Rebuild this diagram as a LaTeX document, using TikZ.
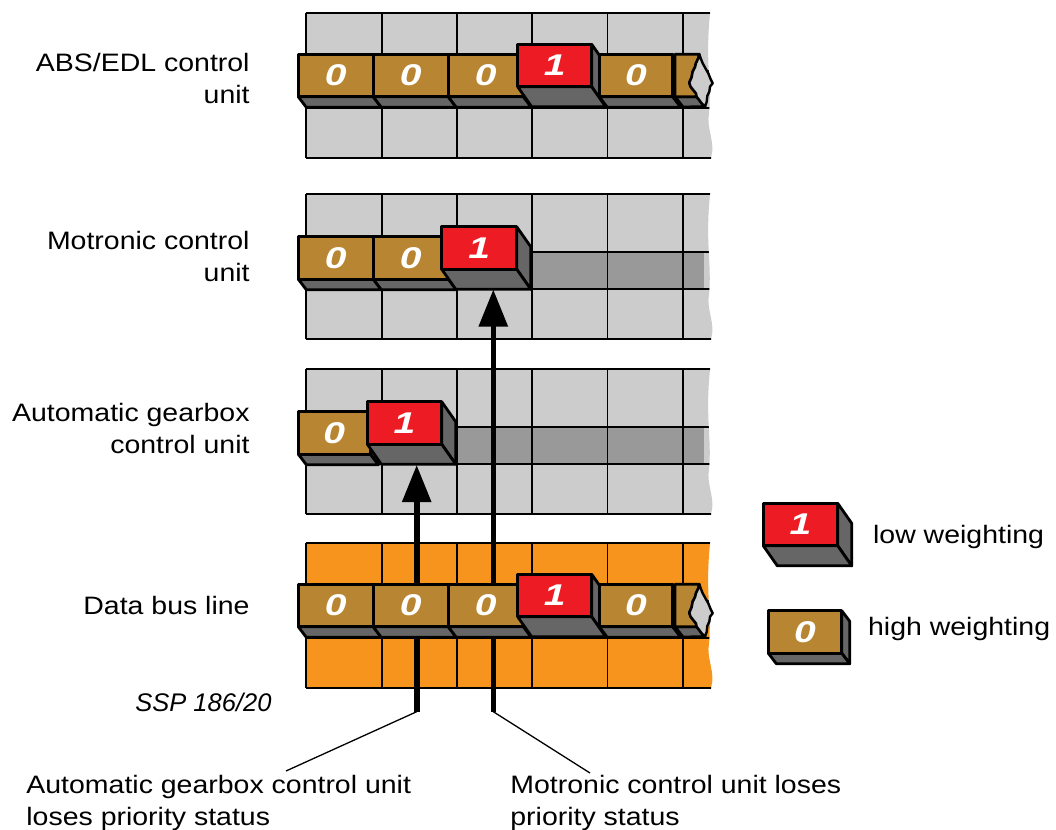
\documentclass[tikz,border=0pt]{standalone}
\usepackage{fontspec}
\setmainfont{Liberation Sans}[FakeStretch=1.13]
\newfontfamily\sspfont{Liberation Sans}
\newfontfamily\digitfont{Liberation Sans}[FakeStretch=1.3]
\usetikzlibrary{arrows.meta}
\definecolor{brownc}{RGB}{184,134,50}
\definecolor{redc}{RGB}{237,28,36}
\definecolor{shadec}{RGB}{102,102,102}
\definecolor{panelc}{RGB}{204,204,204}
\definecolor{bandc}{RGB}{153,153,153}
\definecolor{orangec}{RGB}{247,148,29}
\tikzset{
  blockline/.style={draw=black, line width=1.4pt, line join=round},
  gridline/.style={draw=black, line width=0.9pt},
  digit/.style={text=white, font=\digitfont\bfseries\itshape\fontsize{15}{15}\selectfont, inner sep=0pt},
  lbl/.style={font=\fontsize{12.6}{15.8}\selectfont, inner sep=0pt},
  ssp/.style={font=\sspfont\itshape\fontsize{12.75}{15}\selectfont, inner sep=0pt},
  busarrow/.style={draw=black, line width=2.8pt, -{Triangle[width=14pt,length=18.5pt]}},
  leader/.style={draw=black, line width=0.65pt},
  tornface/.style={fill=panelc, draw=black, line width=1.2pt, line join=round},
}
% panel outline with wavy right edge
\newcommand{\panelshape}[1]{(306,#1) -- (710,#1) .. controls (705,#1+50) and (712,#1+70) .. (709,#1+100) .. controls (706,#1+115) and (716,#1+130) .. (711,#1+144.5) -- (306,#1+144.5) -- cycle}
\newcommand{\panelclip}[1]{(300,#1-3) -- (710,#1-3) -- (710,#1) .. controls (705,#1+50) and (712,#1+70) .. (709,#1+100) .. controls (706,#1+115) and (716,#1+130) .. (711,#1+144.5) -- (711,#1+147.5) -- (300,#1+147.5) -- cycle}
\newcommand{\gridpanel}[3]{% top y, fill colour, band yes/no
  \fill[#2] \panelshape{#1};
  \begin{scope}
    \clip \panelclip{#1};
    \ifnum#3=1 \fill[bandc] (306,#1+58) rectangle (704,#1+95);\fi
    \foreach \xx in {306,382,457,532,607.5,683.3}
      \draw[gridline] (\xx,#1) -- (\xx,#1+144.5);
    \foreach \yy in {0,58,95,144.5}
      \draw[gridline] (306,#1+\yy) -- (720,#1+\yy);
  \end{scope}
}
\newcommand{\zeroblock}[4]{% name, x, y, width
  \filldraw[blockline, fill=shadec] (#2+#4,#3) -- ++(8,10.5) -- ++(0,42.5) -- ++(-8,-10.5) -- cycle;
  \filldraw[blockline, fill=shadec] (#2,#3+42.5) -- ++(8,10.5) -- ++(#4,0) -- ++(-8,-10.5) -- cycle;
  \filldraw[blockline, fill=brownc] (#2,#3) rectangle ++(#4,42.5);
  \node[digit] (#1) at (#2+#4/2,#3+21.25) {0};
}
\newcommand{\oneblock}[4]{% name, x, y, width
  \filldraw[blockline, fill=shadec] (#2+#4,#3) -- ++(14,20) -- ++(0,42.5) -- ++(-14,-20) -- cycle;
  \filldraw[blockline, fill=shadec] (#2,#3+42.5) -- ++(14,20) -- ++(#4,0) -- ++(-14,-20) -- cycle;
  \filldraw[blockline, fill=redc] (#2,#3) rectangle ++(#4,42.5);
  \node[digit] (#1) at (#2+#4/2,#3+21) {1};
}
\newcommand{\tornblock}[1]{% vertical offset
  \filldraw[blockline, fill=shadec] (675,#1+96.7) -- (683,#1+107) -- (705,#1+106.7) -- (701.7,#1+103.3) -- (699.3,#1+100) -- (696.7,#1+96.7) -- cycle;
  \filldraw[blockline, fill=brownc] (675,#1+54.3) -- (699.3,#1+54.3) -- (698.3,#1+58.3) -- (696,#1+63.3) -- (695,#1+67.3) -- (692.7,#1+71.7) -- (691.7,#1+77.3) -- (689.3,#1+82.7) -- (690.7,#1+86.7) -- (693.3,#1+90) -- (696,#1+93.3) -- (696.7,#1+96.7) -- (675,#1+96.7) -- cycle;
  \filldraw[tornface] (699.3,#1+54.3) -- (700.7,#1+58.3) -- (702.7,#1+63.3) -- (706,#1+69.3) -- (708.3,#1+73.3) -- (710.7,#1+79.3) -- (712.7,#1+83.3) -- (710,#1+86.7) -- (709.3,#1+91.7) -- (707.3,#1+96) -- (706.7,#1+101.7) -- (705,#1+106.7) -- (701.7,#1+103.3) -- (699.3,#1+100) -- (696.7,#1+96.7) -- (696,#1+93.3) -- (693.3,#1+90) -- (690.7,#1+86.7) -- (689.3,#1+82.7) -- (691.7,#1+77.3) -- (692.7,#1+71.7) -- (695,#1+67.3) -- (696,#1+63.3) -- (698.3,#1+58.3) -- cycle;
}
\begin{document}
\begin{tikzpicture}[x=0.5pt,y=-0.5pt]
\useasboundingbox (0,0) rectangle (1056,830);
\fill[white] (0,0) rectangle (1056,830);

% panels
\gridpanel{13.3}{panelc}{0}
\gridpanel{194.3}{panelc}{1}
\gridpanel{369.3}{panelc}{1}
\gridpanel{543.3}{orangec}{0}

% arrows from the data bus
\coordinate (a1bot) at (416.7,711.7);
\coordinate (a1tip) at (416.7,465);
\coordinate (a2bot) at (493.3,711.7);
\coordinate (a2tip) at (493.3,289.5);
\draw[busarrow] (a1bot) -- (a1tip);
\draw[busarrow] (a2bot) -- (a2tip);

% ABS/EDL row
\zeroblock{t1}{298.3}{54.3}{75}
\zeroblock{t2}{373.3}{54.3}{75}
\zeroblock{t3}{448.3}{54.3}{75}
\oneblock{t4}{517.7}{44.3}{74}
\zeroblock{t5}{599.3}{54.3}{73.4}
\tornblock{0}

% Motronic row
\zeroblock{m1}{298.3}{236.7}{75}
\zeroblock{m2}{373.3}{236.7}{75}
\oneblock{m3}{441.7}{226.7}{75}

% gearbox row
\zeroblock{g1}{298.3}{411.7}{72}
\oneblock{g2}{367.3}{401.7}{74.4}

% data bus row
\zeroblock{d1}{298.3}{584.3}{75}
\zeroblock{d2}{373.3}{584.3}{75}
\zeroblock{d3}{448.3}{584.3}{75}
\oneblock{d4}{517.7}{574.3}{74}
\zeroblock{d5}{599.3}{584.3}{73.4}
\tornblock{530}

% legend
\oneblock{legone}{763.3}{503.3}{74.4}
\zeroblock{legzero}{768.3}{610.7}{73.4}
\node[lbl, anchor=base west] (lowt) at (872.7,543.3) {low weighting};
\node[lbl, anchor=base west] (hight) at (867.7,635.7) {high weighting};

% left labels (base anchor = baseline of the last line)
\node[lbl, anchor=base east, align=right] (absl) at (250,103.3) {ABS/EDL control\\unit};
\node[lbl, anchor=base east, align=right] (motl) at (250,281.5) {Motronic control\\unit};
\node[lbl, anchor=base east, align=right] (gearl) at (250,453.3) {Automatic gearbox\\control unit};
\node[lbl, anchor=base east] (busl) at (250,614) {Data bus line};
\node[ssp, anchor=base west] (sspl) at (135,711.7) {SSP 186/20};

% bottom labels and leaders
\coordinate (l1end) at (286,771);
\coordinate (l2end) at (590,773);
\draw[leader] (a1bot) -- (l1end);
\draw[leader] (a2bot) -- (l2end);
\node[lbl, anchor=base west, align=left] (gearlose) at (26,825.5) {Automatic gearbox control unit\\loses priority status};
\node[lbl, anchor=base west, align=left] (motlose) at (510,825.5) {Motronic control unit loses\\priority status};
\end{tikzpicture}
\end{document}
